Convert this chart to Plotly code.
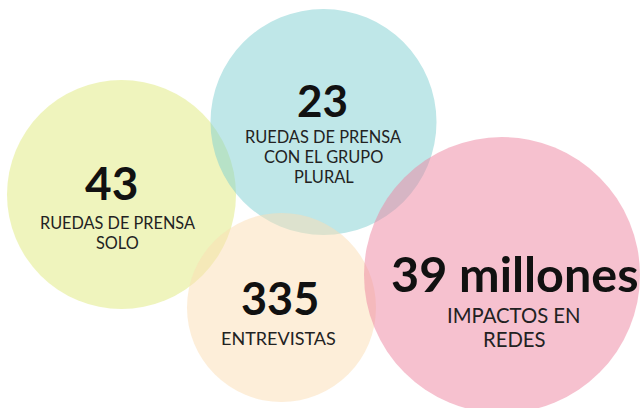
import plotly.graph_objects as go

# Data
values = ["43", "23", "335", "39 millones"]
labels = [["RUEDAS DE PRENSA", "SOLO"],
          ["RUEDAS DE PRENSA", "CON EL GRUPO", "PLURAL"],
          ["ENTREVISTAS"],
          ["IMPACTOS EN", "REDES"]]

# Layout (pixel-space positions)
centers_x = [121.5, 323.5, 281.5, 502]
centers_y = [194.5, 122, 307.5, 275]
radii = [114.5, 113, 94.5, 138]
colors = ["#DFEA7C", "#80CFD1", "#FBDDB3", "#ED839F"]
num_x = [111, 322.5, 280, 515]
num_y = [182, 99.5, 298, 273]
lab_x = [117, 323.5, 278.5, 514]
lab_y = [232, 156.5, 337.5, 326.8]
lab_gap = [20, 20, 0, 24.6]
num_size = [46, 44, 45, 48.5]
lab_size = [16.3, 16.4, 18, 20.3]

fig = go.Figure()
fig.add_trace(go.Scatter(x=[0, 644], y=[0, 408], mode="markers", marker=dict(opacity=0),
                         hoverinfo="skip", showlegend=False))

shapes = []
for cx, cy, r, c in zip(centers_x, centers_y, radii, colors):
    shapes.append(dict(type="circle", xref="x", yref="y", x0=cx - r, x1=cx + r, y0=cy - r, y1=cy + r,
                       fillcolor=c, opacity=0.5, line=dict(width=0), layer="below"))

annotations = []
FONT = "Lato, 'Open Sans', sans-serif"
for i in range(4):
    annotations.append(dict(x=num_x[i], y=num_y[i], xref="x", yref="y", text="<b>" + values[i] + "</b>",
                            showarrow=False, font=dict(family=FONT, size=num_size[i], color="#111111"),
                            xanchor="center", yanchor="middle", borderpad=0))
    n = len(labels[i])
    for j, line in enumerate(labels[i]):
        ly = lab_y[i] + (j - (n - 1) / 2) * lab_gap[i]
        annotations.append(dict(x=lab_x[i], y=ly, xref="x", yref="y", text=line,
                                showarrow=False, font=dict(family=FONT, size=lab_size[i], color="#222222"),
                                xanchor="center", yanchor="middle", borderpad=0))

fig.update_layout(
    width=644, height=408,
    margin=dict(l=0, r=0, t=0, b=0),
    paper_bgcolor="white", plot_bgcolor="white",
    xaxis=dict(range=[0, 644], visible=False, fixedrange=True),
    yaxis=dict(range=[408, 0], visible=False, fixedrange=True),
    shapes=shapes, annotations=annotations,
)

fig.write_html("out.html", config={"displayModeBar": False},
               post_script="document.body.style.margin='0';document.body.style.overflow='hidden';")
